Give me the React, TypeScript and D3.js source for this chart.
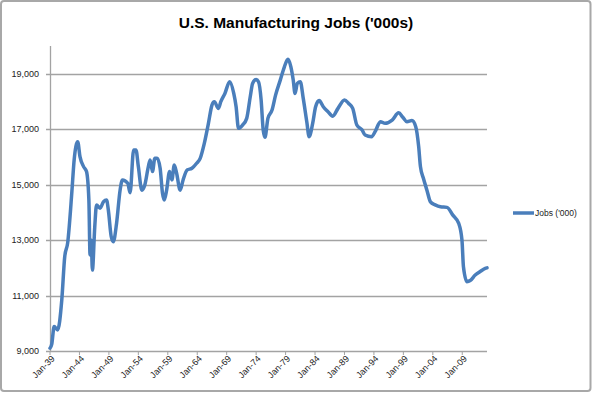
import { useEffect, useRef } from "react"
import * as d3 from "d3"

// decimal year of each reading and jobs in thousands
const years = [
    1939.0, 1939.3, 1939.7, 1940.3, 1941.0, 1941.5, 1942.0, 1942.7, 1943.1, 1943.7,
    1944.1, 1944.7, 1945.2, 1945.6, 1945.8, 1946.0, 1946.2, 1946.6, 1946.9, 1947.5,
    1948.1, 1948.6, 1948.9, 1949.4, 1949.75, 1950.3, 1950.9, 1951.3, 1952.2, 1952.6,
    1953.2, 1953.6, 1954.0, 1954.6, 1955.1, 1955.7, 1956.0, 1956.4, 1956.8, 1957.2,
    1957.7, 1958.1, 1958.4, 1958.8, 1959.3, 1959.7, 1960.1, 1960.5, 1961.1, 1961.6,
    1962.3, 1963.1, 1963.9, 1964.5, 1965.2, 1965.9, 1966.5, 1966.9, 1967.6, 1968.0,
    1968.7, 1969.5, 1970.2, 1970.6, 1971.0, 1971.7, 1972.4, 1973.0, 1973.4, 1974.0,
    1974.4, 1974.85, 1975.2, 1975.5, 1976.0, 1976.7, 1977.3, 1978.1, 1978.8, 1979.4,
    1979.9, 1980.3, 1980.6, 1981.0, 1981.5, 1982.0, 1982.6, 1983.0, 1983.6, 1984.1,
    1984.7, 1985.4, 1986.2, 1987.0, 1987.9, 1989.0, 1989.7, 1990.4, 1991.1, 1992.0,
    1992.5, 1993.6, 1994.2, 1995.1, 1995.9, 1997.1, 1998.2, 1998.9, 1999.6, 2000.45,
    2001.1, 2001.6, 2001.9, 2002.4, 2003.0, 2003.6, 2004.4, 2005.3, 2006.4, 2007.4,
    2008.4, 2008.95, 2009.2, 2009.8, 2010.35, 2011.2, 2012.0, 2012.9, 2013.2,
]

const jobs = [
    9100, 9250, 9880, 9760, 10840, 12400, 12900, 14700, 15890, 16550,
    16000, 15650, 15470, 14450, 12460, 13000, 11920, 13480, 14270, 14150,
    14390, 14450, 14090, 13120, 12940, 13600, 14800, 15170, 15050, 14710,
    16250, 16250, 15650, 14800, 14990, 15650, 15890, 15470, 15950, 15950,
    15590, 14690, 14450, 14800, 15470, 15170, 15710, 15410, 14800, 15170,
    15530, 15590, 15770, 15950, 16490, 17210, 17870, 17990, 17750, 17990,
    18290, 18710, 18290, 17810, 17030, 17150, 17390, 18170, 18650, 18790,
    18710, 18050, 16970, 16710, 17390, 17690, 18230, 18770, 19250, 19520,
    19250, 18770, 18290, 18650, 18710, 18110, 17270, 16730, 17210, 17810,
    18030, 17810, 17630, 17470, 17750, 18050, 17930, 17750, 17150, 16970,
    16790, 16730, 16910, 17270, 17210, 17330, 17590, 17430, 17270, 17310,
    17090, 16370, 15650, 15230, 14800, 14380, 14270, 14200, 14180, 13900,
    13600, 13000, 12040, 11500, 11540, 11740, 11860, 11980, 12000,
]

const xTickYears = [1939, 1944, 1949, 1954, 1959, 1964, 1969, 1974, 1979, 1984, 1989, 1994, 1999, 2004, 2009]
const yTicks = [9000, 11000, 13000, 15000, 17000, 19000]

const title = "U.S. Manufacturing Jobs ('000s)"
const seriesName = "Jobs ('000)"

export default function App() {
    const ref = useRef<SVGSVGElement>(null)

    useEffect(() => {
        const width = 593
        const height = 393
        const margin = { top: 46, right: 106, bottom: 42, left: 50 }
        const innerW = width - margin.left - margin.right
        const innerH = height - margin.top - margin.bottom
        const font = "'Liberation Sans', Arial, sans-serif"
        const grid = "#a3a3a3"
        const blue = "#4a7ebb"

        const svg = d3.select(ref.current)
        svg.selectAll("*").remove()

        svg.append("rect")
            .attr("x", 1)
            .attr("y", 1)
            .attr("width", width - 3.5)
            .attr("height", height - 3)
            .attr("rx", 3)
            .attr("fill", "#fff")
            .attr("stroke", "#a8a8a8")
            .attr("stroke-width", 2)

        svg.append("text")
            .attr("x", 296)
            .attr("y", 28)
            .attr("text-anchor", "middle")
            .attr("font-family", font)
            .attr("font-weight", "bold")
            .attr("font-size", 15.5)
            .text(title)

        const g = svg.append("g")
            .attr("transform", `translate(${margin.left},${margin.top})`)

        const x = d3.scaleLinear()
            .domain([years[0], years[years.length - 1]])
            .range([0, innerW])

        const y = d3.scaleLinear()
            .domain([9000, 20000])
            .range([innerH, 0])

        // gridlines
        g.append("g")
            .selectAll("line")
            .data(yTicks)
            .join("line")
            .attr("x1", -4)
            .attr("x2", innerW)
            .attr("y1", d => Math.round(y(d)) + 0.5)
            .attr("y2", d => Math.round(y(d)) + 0.5)
            .attr("stroke", grid)
            .attr("stroke-width", 1.3)

        g.append("line")
            .attr("x1", 0.5)
            .attr("x2", 0.5)
            .attr("y1", 0)
            .attr("y2", innerH)
            .attr("stroke", grid)
            .attr("stroke-width", 1.3)

        g.append("g")
            .selectAll("text")
            .data(yTicks)
            .join("text")
            .attr("x", -11)
            .attr("y", d => y(d))
            .attr("dy", "0.35em")
            .attr("text-anchor", "end")
            .attr("font-family", font)
            .attr("font-size", 9)
            .attr("fill", "#222")
            .text(d => d3.format(",")(d))

        // x ticks and rotated labels
        g.append("g")
            .selectAll("line")
            .data(xTickYears)
            .join("line")
            .attr("x1", d => x(d))
            .attr("x2", d => x(d))
            .attr("y1", innerH)
            .attr("y2", innerH + 4)
            .attr("stroke", grid)

        g.append("g")
            .selectAll("text")
            .data(xTickYears)
            .join("text")
            .attr("transform", d => `translate(${x(d) + 3},${innerH + 6}) rotate(-45)`)
            .attr("text-anchor", "end")
            .attr("dy", "0.35em")
            .attr("font-family", font)
            .attr("font-size", 9)
            .attr("fill", "#222")
            .text(d => `Jan-${String(d).slice(2)}`)

        const line = d3.line<number>()
            .x((_, i) => x(years[i]))
            .y(d => y(d))
            .curve(d3.curveMonotoneX)

        g.append("path")
            .datum(jobs)
            .attr("d", line)
            .attr("fill", "none")
            .attr("stroke", blue)
            .attr("stroke-width", 3.5)
            .attr("stroke-linejoin", "round")
            .attr("stroke-linecap", "round")

        // legend
        const lg = svg.append("g").attr("transform", "translate(513,213)")
        lg.append("line")
            .attr("x1", 0)
            .attr("x2", 21)
            .attr("stroke", blue)
            .attr("stroke-width", 3.5)
        lg.append("text")
            .attr("x", 22)
            .attr("dy", "0.35em")
            .attr("font-family", font)
            .attr("font-size", 8.5)
            .attr("fill", "#222")
            .text(seriesName)
    }, [])

    return (
        <svg
            ref={ref}
            width={593}
            height={393}
            style={{ position: "absolute", left: 0, top: 0, background: "#fff" }}
        />
    )
}
